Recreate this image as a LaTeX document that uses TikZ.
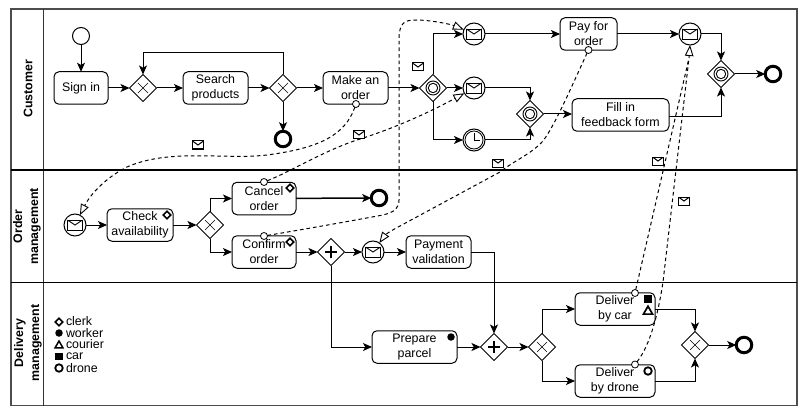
\documentclass[tikz,border=0pt]{standalone}
\usepackage{fontspec}
\setmainfont{Liberation Sans}
\usetikzlibrary{arrows.meta,shapes.geometric,calc}
\tikzset{
  every node/.style={font=\fontsize{12.4}{15}\selectfont,inner sep=0pt,outer sep=0pt},
  task/.style={draw,line width=1pt,rounded corners=5pt,fill=white,align=center,minimum height=32.5pt},
  gate/.style={diamond,draw,line width=1pt,fill=white,aspect=1,minimum width=27pt,minimum height=27pt},
  ev/.style={circle,draw,line width=1pt,fill=white,minimum size=22pt},
  startev/.style={circle,draw,line width=1pt,fill=white,minimum size=17pt},
  endev/.style={circle,draw,line width=3pt,fill=white,minimum size=15.5pt},
  port/.style={circle,draw,line width=.8pt,fill=white,minimum size=7pt},
  flow/.style={draw,line width=1pt,-{Stealth[length=9pt,width=8pt,inset=2.2pt]}},
  msg/.style={draw,line width=1pt,dash pattern=on 3.6pt off 3pt},
  msgend/.style={msg,-{Triangle[open,fill=white,length=11pt,width=8.5pt,line width=.9pt]}},
  mail/.style={draw,line width=1pt,fill=white,minimum width=11pt,minimum height=8pt,path picture={
     \draw[line width=1pt] (path picture bounding box.north west) -- ++(5.5pt,-4pt) -- (path picture bounding box.north east);}},
  bigmail/.style={draw,line width=.9pt,fill=white,minimum width=15pt,minimum height=10pt,path picture={
     \draw[line width=.9pt] (path picture bounding box.north west) -- ++(7.5pt,-5pt) -- (path picture bounding box.north east);}},
  lane/.style={font=\fontsize{12.4}{16}\selectfont\bfseries,rotate=90,align=center},
  role/.style={diamond,draw,line width=1.5pt,fill=white,aspect=1,minimum width=7.5pt,minimum height=7.5pt},
  legend/.style={anchor=west},
  xgate/.style={line width=.4pt},
}
\newcommand{\gatecross}[1]{\draw[xgate] ($(#1)+(-5,-5)$) -- ($(#1)+(5,5)$) ($(#1)+(5,-5)$) -- ($(#1)+(-5,5)$);}
\newcommand{\gateplus}[1]{\draw[line width=2pt] ($(#1)+(-6,0)$) -- ($(#1)+(6,0)$) ($(#1)+(0,-6)$) -- ($(#1)+(0,6)$);}
\newcommand{\gatering}[1]{\draw[line width=.9pt] (#1) circle (7pt) (#1) circle (4.7pt);}
\begin{document}
\begin{tikzpicture}[x=1pt,y=-1pt]
\useasboundingbox (0,0) rectangle (807,412);
\fill[white] (0,0) rectangle (807,412);
% pool
\draw[line width=1.4pt,black!70] (11,9) rectangle (797,405.5);
\draw[line width=1pt,black!80] (43.5,9) -- (43.5,405.5);
\draw[line width=1.1pt,black] (11,170) -- (797,170);
\draw[line width=1.1pt,black] (11,282.5) -- (797,282.5);
\node[lane] at (28,89) {Customer};
\node[lane] at (27,226.5) {Order\\management};
\node[lane] at (28,343) {Delivery\\management};
% customer lane
\node[startev] (start) at (81,36) {};
\node[task,minimum width=54pt] (signin) at (81,88) {Sign in};
\node[gate] (g1) at (143,88) {}; \gatecross{g1}
\node[task,minimum width=65pt] (search) at (215.5,88) {Search\\products};
\node[gate] (g2) at (283,88) {}; \gatecross{g2}
\node[endev] (end1) at (283,139) {};
\node[task,minimum width=65pt] (make) at (355.5,88) {Make an\\order};
\node[gate] (g3) at (433,88) {}; \gatering{g3}
\node[ev] (e1) at (474,34) {}; \node[bigmail] at (474,34) {};
\node[ev] (e2) at (474,88) {}; \node[bigmail] at (474,88) {};
\node[ev] (e3) at (474,140) {};
\draw[line width=.8pt] (e3) circle (9pt);
\draw[line width=.8pt] (474,133) -- (474,140) -- (480,140);
\node[gate] (g4) at (530,114) {}; \gatering{g4}
\node[task,minimum width=57pt] (pay) at (588.5,34) {Pay for\\order};
\node[task,minimum width=97pt] (fill) at (620.5,115) {Fill in\\feedback form};
\node[ev] (e4) at (690,34) {}; \node[bigmail] at (690,34) {};
\node[gate] (g5) at (721,74) {}; \gatering{g5}
\node[endev] (end2) at (773,74) {};
% order lane
\node[ev] (e5) at (75,225) {}; \node[bigmail] at (75,225) {};
\node[task,minimum width=66pt] (check) at (140,225) {Check\\availability};
\node[gate] (g6) at (210,225) {}; \gatecross{g6}
\node[task,minimum width=64pt] (cancel) at (264,198.5) {Cancel\\order};
\node[endev] (end3) at (379,198) {};
\node[task,minimum width=64pt] (confirm) at (264,252) {Confirm\\order};
\node[gate] (p1) at (331,252) {}; \gateplus{p1}
\node[ev] (e6) at (373,252) {}; \node[bigmail] at (373,252) {};
\node[task,minimum width=65pt] (payval) at (438.5,252) {Payment\\validation};
% delivery lane
\node[task,minimum width=85pt] (prep) at (414.5,347) {Prepare\\parcel};
\node[gate] (p2) at (494,347) {}; \gateplus{p2}
\node[gate] (g7) at (542,347) {}; \gatecross{g7}
\node[task,minimum width=80pt] (car) at (615,309) {Deliver\\by car};
\node[task,minimum width=80pt] (drone) at (615,381) {Deliver\\by drone};
\node[gate] (g8) at (695,345) {}; \gatecross{g8}
\node[endev] (end4) at (744,345) {};
% role markers
\node[role] (r1) at (167,215) {};
\node[role] (r2) at (290,188) {};
\node[role] (r3) at (290,242) {};
\node[circle,fill=black,minimum size=7.5pt] (r4) at (451,337) {};
\node[fill=black,minimum size=7.5pt] (r5) at (648,299) {};
\node[regular polygon,regular polygon sides=3,draw,line width=1.7pt,minimum size=10.5pt] (r6) at (648,311.5) {};
\node[circle,draw,line width=1.8pt,minimum size=7.5pt] (r7) at (648,371) {};
% legend
\node[role] (l1) at (59,322) {};
\node[circle,fill=black,minimum size=7.5pt] (l2) at (59,333) {};
\node[regular polygon,regular polygon sides=3,draw,line width=1.5pt,minimum size=9pt] (l3) at (59,345.5) {};
\node[fill=black,minimum size=7.5pt] (l4) at (59,356.5) {};
\node[circle,draw,line width=1.8pt,minimum size=7.5pt] (l5) at (59,368) {};
\node[legend] (t1) at (66,321.5) {clerk};
\node[legend] (t2) at (66,333) {worker};
\node[legend] (t3) at (66,344.5) {courier};
\node[legend] (t4) at (66,356.5) {car};
\node[legend] (t5) at (66,368) {drone};
% sequence flows
\path[flow] (start) -- (signin);
\path[flow] (signin) -- (g1);
\path[flow] (g1) -- (search);
\path[flow] (search) -- (g2);
\path[flow] (g2) -- (make);
\path[flow] (g2) -- (end1);
\coordinate (loop) at (283,53);
\path[flow] (g2.north) -- (loop) -| (g1.north);
\path[flow] (make) -- (g3);
\path[flow] (g3.north) |- (e1);
\path[flow] (g3) -- (e2);
\path[flow] (g3.south) |- (e3);
\path[flow] (e2) -| (g4.north);
\path[flow] (e3) -| (g4.south);
\path[flow] (g4) -- (fill.west |- g4);
\path[flow] (e1) -- (pay);
\path[flow] (pay) -- (e4);
\path[flow] (e4) -| (g5.north);
\path[flow] (fill.east |- 0,117) -| (g5.south);
\path[flow] (g5) -- (end2);
\path[flow] (e5) -- (check);
\path[flow] (check) -- (g6);
\path[flow] (g6.north) |- (cancel.west);
\path[flow] (g6.south) |- (confirm.west);
\path[flow,line width=1.5pt] (cancel) -- (end3);
\path[flow] (confirm) -- (p1);
\path[flow] (p1) -- (e6);
\path[flow] (e6) -- (payval);
\path[flow] (payval.east) -| (p2.north);
\path[flow] (p1.south) |- (prep.west);
\path[flow] (prep) -- (p2);
\path[flow] (p2) -- (g7);
\path[flow] (g7.north) |- (car.west);
\path[flow] (g7.south) |- (drone.west);
\path[flow] (car.east) -| (g8.north);
\path[flow] (drone.east) -| (g8.south);
\path[flow] (g8) -- (end4);
% message ports
\node[port] (s1) at (356,104) {};
\node[port] (s2) at (264,182) {};
\node[port] (s3) at (264,236) {};
\node[port] (s4) at (588.5,50) {};
\node[port] (s5) at (635,293) {};
\node[port] (s6) at (635,364.5) {};
\coordinate (tipbase) at (689,58);
% message flows
\path[msgend] (s1) .. controls (345,135) and (320,148) .. (267,155) .. controls (225,160) and (170,148) .. (127,167) .. controls (105,178) and (90,195) .. (e5);
\path[msgend] (s2) .. controls (290,172) and (325,150) .. (360,139) .. controls (395,128) and (430,112) .. (e2);
\path[msgend] (s3) .. controls (300,230) and (345,222) .. (383,215) .. controls (395,212) and (399,208) .. (399,200) -- (399,40) .. controls (399,22) and (405,20) .. (416,20) .. controls (430,20) and (450,24) .. (e1);
\path[msgend] (s4) .. controls (570,90) and (555,125) .. (543,141) .. controls (530,155) and (515,160) .. (500,172) -- (400,226) .. controls (392,230) and (385,235) .. (e6);
\path[msg] (s6) .. controls (650,345) and (658,315) .. (663,282) -- (tipbase);
\path[msgend] (s5) -- (tipbase) -- (e4.south);
% envelopes
\node[mail] (m1) at (198,145) {};
\node[mail] (m2) at (359,135) {};
\node[mail] (m3) at (418,67) {};
\node[mail] (m4) at (498,163) {};
\node[mail] (m5) at (658,161) {};
\node[mail] (m6) at (684,201) {};
\end{tikzpicture}
\end{document}
